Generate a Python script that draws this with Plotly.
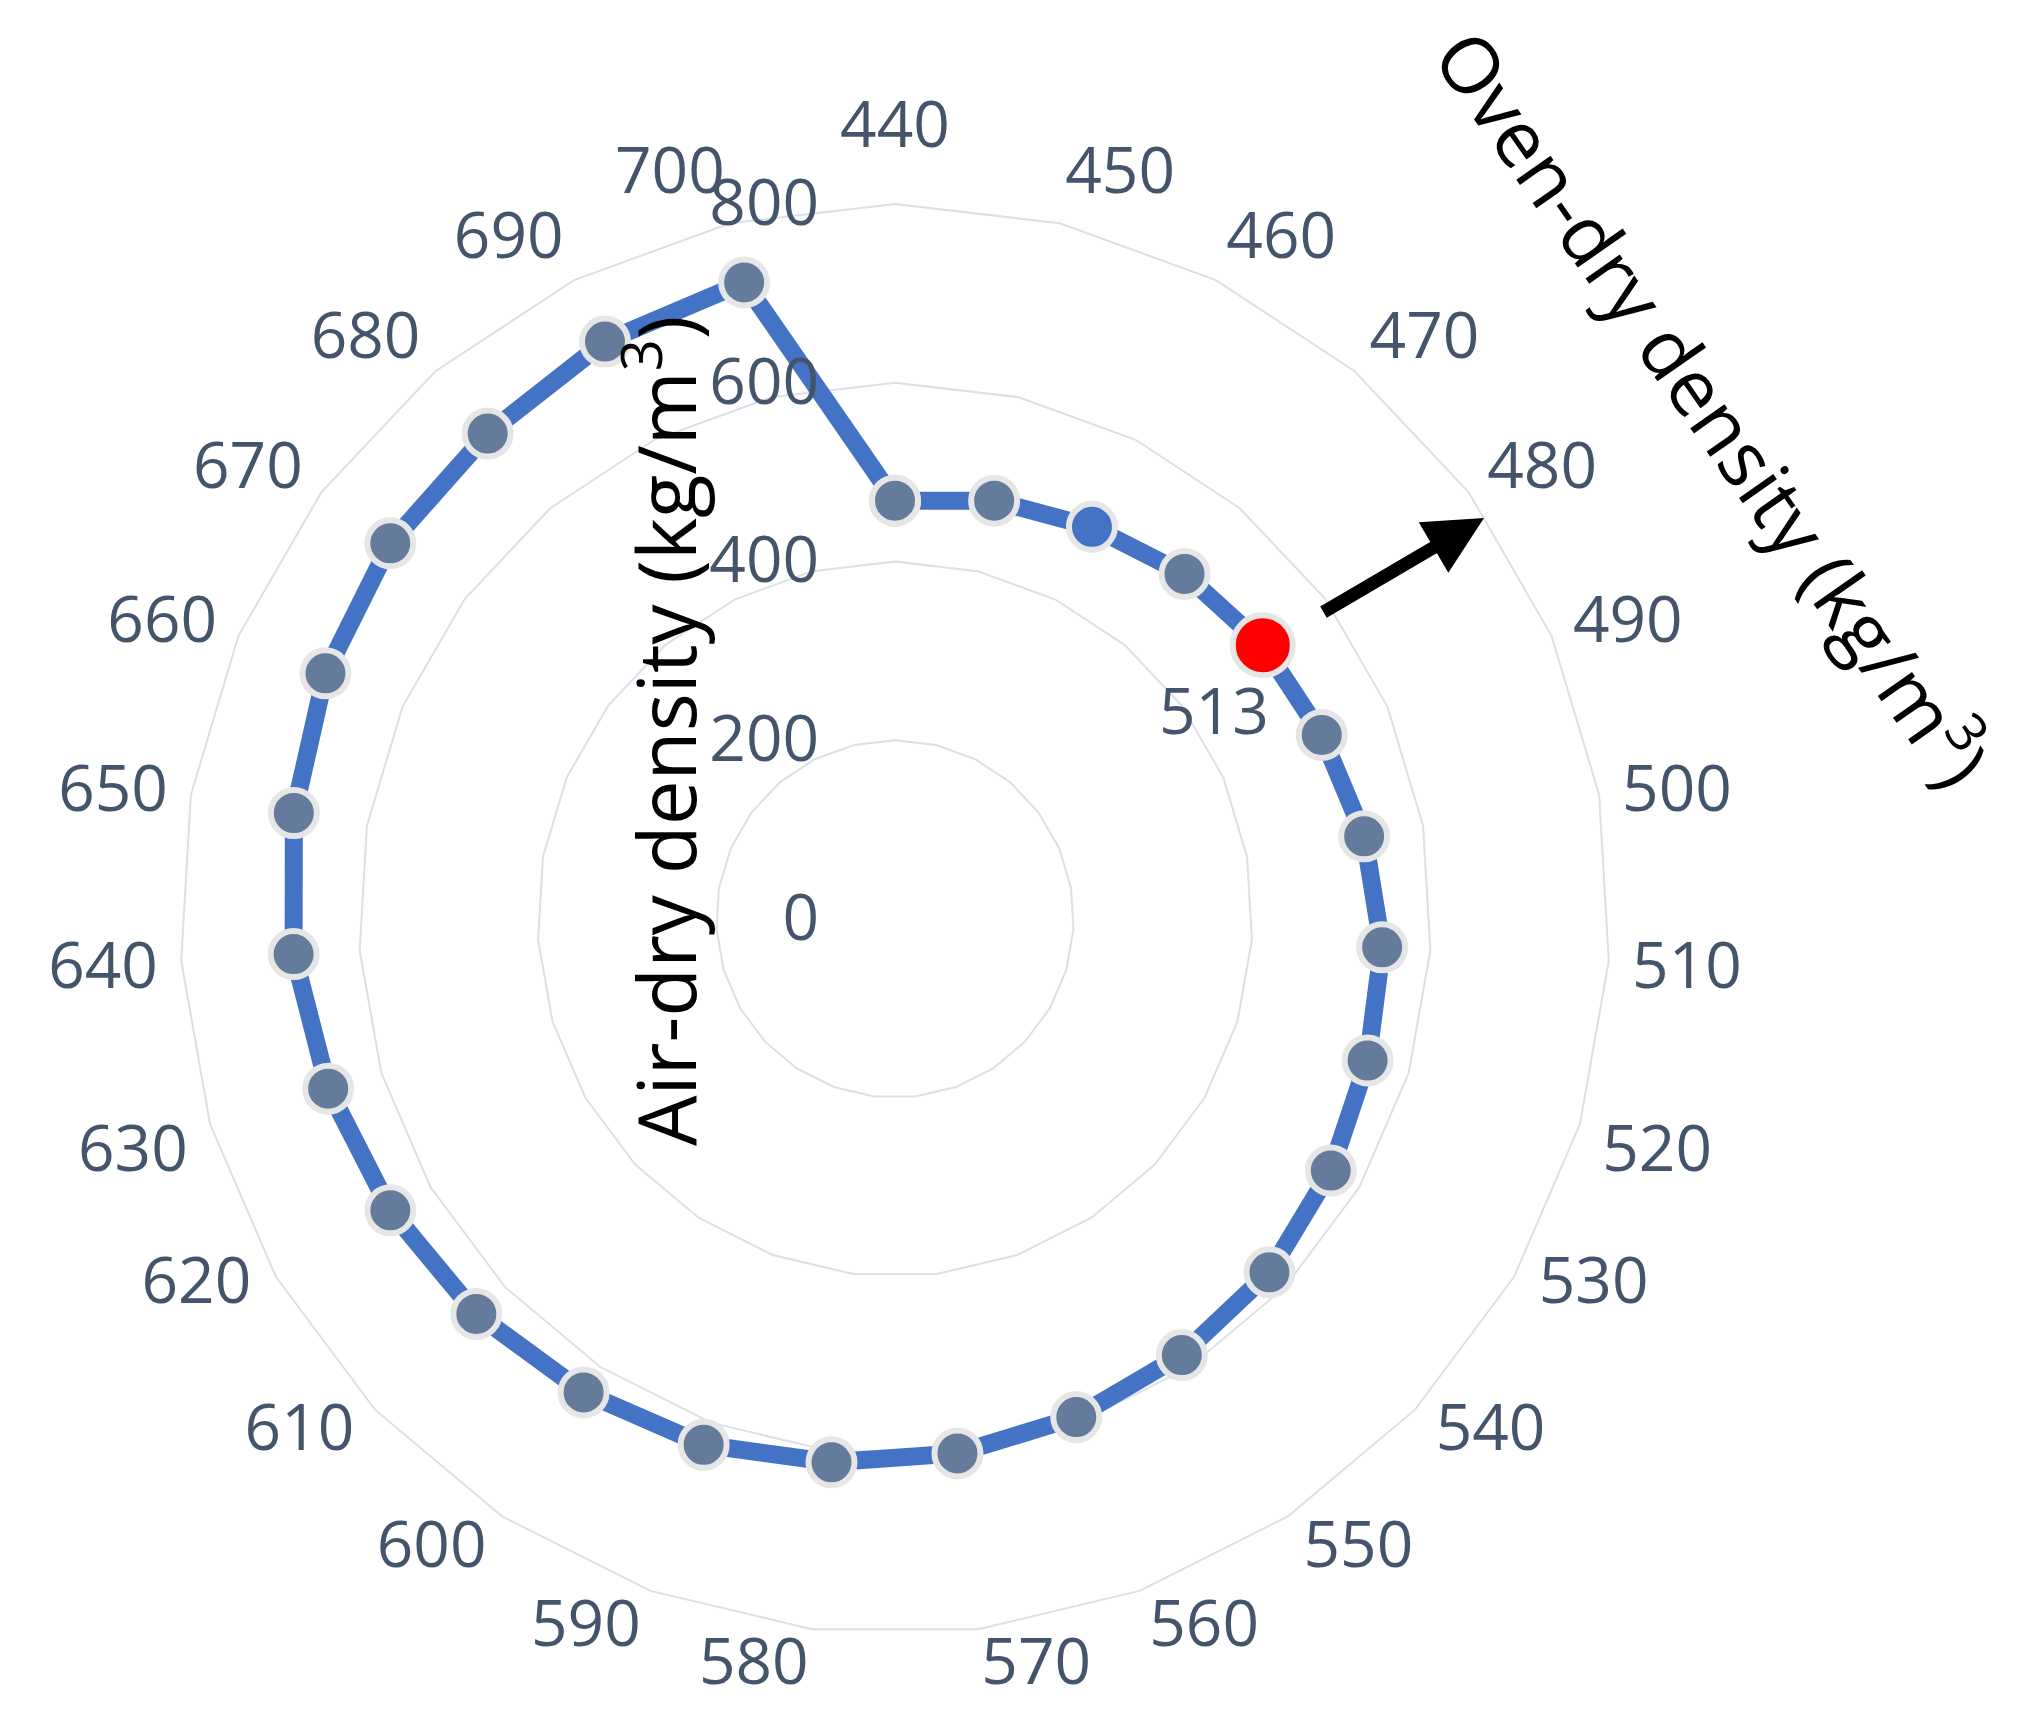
import plotly.graph_objects as go

# Oven-dry density categories (angular axis)
oven_dry = [str(v) for v in range(440, 701, 10)]
# Air-dry density values (radial)
air_dry = [468, 481, 491, 504, 513, 520, 533, 546, 552, 563, 576, 584, 593, 602,
           612, 626, 634, 644, 652, 662, 674, 683, 694, 704, 709, 723, 732]
radial_ticks = [0, 200, 400, 600, 800]
# angular labels split into groups so each group can sit at its own distance from the ring
top_labels = ["440"]
lower_labels = [str(v) for v in range(530, 621, 10)]
side_labels = [c for c in oven_dry if c not in lower_labels and c not in top_labels]

GREY_BLUE = "#647b9c"
BLUE = "#4472c4"
RED = "#ff0000"
TICK_COLOR = "#44546a"
GRID = "#d9e0ea"

colors = [GREY_BLUE] * len(air_dry)
colors[2] = BLUE
colors[4] = RED
sizes = [46] * len(air_dry)
sizes[4] = 60

theta = oven_dry + [oven_dry[0]]
r = air_dry + [air_dry[0]]
colors_c = colors + [colors[0]]
sizes_c = sizes + [sizes[0]]

fig = go.Figure()
fig.add_trace(go.Scatterpolar(
    r=r, theta=theta, mode="lines+markers",
    line=dict(color=BLUE, width=18),
    marker=dict(color=colors_c, size=sizes_c, opacity=1,
                line=dict(color="#e6e6e6", width=6)),
    showlegend=False,
))
# carrier traces for the label-only polar subplots (draw nothing)
for sp in ("polar2", "polar3", "polar4"):
    fig.add_trace(go.Scatterpolar(
        r=air_dry, theta=oven_dry, mode="none", subplot=sp,
        showlegend=False, hoverinfo="skip",
    ))

# page body has an 8px margin; figure sized to fit the 2029x1720 window
OFF = 8
W, H = 2029 - 2 * OFF, 1720 - 2 * OFF
CX, CY, R = 895 - OFF, 919 - OFF, 715
LIFT = 39  # lower-label subplot raised by this many pixels


def px(x, y):
    """window pixel -> paper coords"""
    return (x - OFF) / W, 1 - (y - OFF) / H


dom_x = [(CX - R) / W, (CX + R) / W]
dom_y = [1 - (CY + R) / H, 1 - (CY - R) / H]
dom_y_lift = [dom_y[0] + LIFT / H, dom_y[1] + LIFT / H]


def label_polar(domain_y, tickvals, ticklen):
    return dict(
        domain=dict(x=dom_x, y=domain_y),
        bgcolor="rgba(0,0,0,0)",
        radialaxis=dict(range=[0, 800], visible=False, showgrid=False),
        angularaxis=dict(
            type="category", categoryorder="array", categoryarray=oven_dry,
            direction="clockwise", rotation=90,
            tickmode="array", tickvals=tickvals,
            showgrid=False, showline=False,
            ticks="outside", ticklen=ticklen, tickcolor="rgba(0,0,0,0)",
            tickfont=dict(size=64, color=TICK_COLOR),
        ),
    )


fig.update_layout(
    width=W, height=H,
    margin=dict(l=0, r=0, t=0, b=0),
    paper_bgcolor="white",
    font=dict(family="Open Sans", color=TICK_COLOR, size=64),
    polar=dict(
        domain=dict(x=dom_x, y=dom_y),
        bgcolor="white",
        gridshape="linear",
        radialaxis=dict(
            range=[0, 800], tickvals=radial_ticks, angle=90, tickangle=90,
            side="counterclockwise", showline=False, gridcolor=GRID, gridwidth=2,
            ticks="outside", ticklen=53, tickcolor="rgba(0,0,0,0)",
            tickfont=dict(size=64, color=TICK_COLOR),
        ),
        angularaxis=dict(
            type="category", categoryorder="array", categoryarray=oven_dry,
            direction="clockwise", rotation=90,
            showticklabels=False, ticks="",
            showgrid=False, linecolor=GRID, linewidth=2,
        ),
    ),
    polar2=label_polar(dom_y, side_labels, 10),
    polar3=label_polar(dom_y_lift, lower_labels, 15),
    polar4=label_polar(dom_y, top_labels, 31),
)

x, y = px(1716, 406)
fig.add_annotation(x=x, y=y, xref="paper", yref="paper", showarrow=False,
                   xanchor="center", yanchor="middle",
                   text="Oven-dry density (kg/m<sup>3</sup>)", textangle=55,
                   font=dict(size=78, color="black"))
x, y = px(661, 731)
fig.add_annotation(x=x, y=y, xref="paper", yref="paper", showarrow=False,
                   xanchor="center", yanchor="middle",
                   text="Air-dry density (kg/m<sup>3</sup>)", textangle=-90,
                   font=dict(size=80, color="black"))
x, y = px(1214, 709)
fig.add_annotation(x=x, y=y, xref="paper", yref="paper", showarrow=False,
                   xanchor="center", yanchor="middle",
                   text="513", font=dict(size=64, color=TICK_COLOR))
x, y = px(1484, 518)
fig.add_annotation(x=x, y=y, xref="paper", yref="paper", text="", showarrow=True,
                   ax=-162, ay=95, arrowhead=2, arrowsize=0.9, arrowwidth=13,
                   arrowcolor="black")

fig.write_html("out.html")
